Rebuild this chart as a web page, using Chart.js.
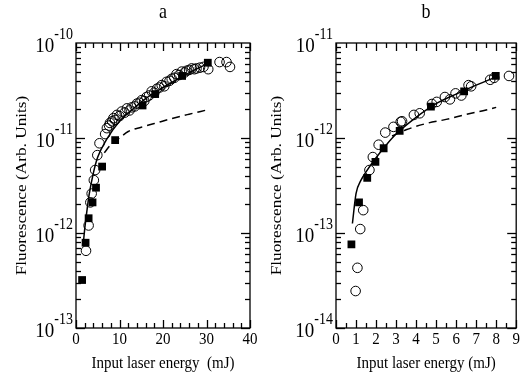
<!DOCTYPE html>
<html>
<head>
<meta charset="utf-8">
<script src="https://cdn.jsdelivr.net/npm/chart.js@4.4.0/dist/chart.umd.min.js"></script>
<style>
  body { margin: 0; background: #fff; }
  .panel { position: absolute; top: 0; width: 261px; height: 380px; }
</style>
</head>
<body>
<div class="panel" style="left:0"><canvas id="chartA" width="261" height="380"></canvas></div>
<div class="panel" style="left:261px"><canvas id="chartB" width="261" height="380"></canvas></div>
<script>
// panel a
const aSquareX = [1.4, 2.2, 2.9, 3.8, 4.6, 6.0, 9.0, 15.3, 18.2, 24.4, 30.3];
const aSquareY = [3.2e-13, 7.9e-13, 1.43e-12, 2.1e-12, 3.0e-12, 5.0e-12, 9.5e-12, 2.2e-11, 2.9e-11, 4.5e-11, 6.2e-11];
const aCircleX = [2.3, 2.9, 3.3, 3.6, 4.1, 4.4, 4.9, 5.4, 6.7, 7.1, 7.6, 7.8, 8.3, 8.6, 9.0, 9.4, 10.0, 10.5, 11.2, 11.7,
  12.3, 12.8, 13.5, 14.0, 14.6, 15.1, 15.7, 16.2, 16.8, 17.4, 18.0, 18.6, 19.2, 19.7, 20.3, 20.8, 21.5, 22.0, 22.6, 23.1,
  23.7, 24.3, 25.0, 25.4, 26.0, 26.6, 27.2, 27.7, 28.5, 29.3, 30.4, 33.0, 34.6, 35.4];
const aCircleY = [6.5e-13, 1.2e-12, 2.1e-12, 2.6e-12, 3.6e-12, 4.6e-12, 6.6e-12, 8.8e-12, 1.1e-11, 1.27e-11, 1.35e-11, 1.44e-11, 1.5e-11, 1.62e-11, 1.55e-11, 1.75e-11, 1.7e-11, 1.9e-11, 1.85e-11, 2.05e-11,
  1.95e-11, 2.1e-11, 2.15e-11, 2.3e-11, 2.35e-11, 2.5e-11, 2.45e-11, 2.7e-11, 2.8e-11, 3.1e-11, 3.0e-11, 3.3e-11, 3.4e-11, 3.6e-11, 3.5e-11, 3.9e-11, 4.0e-11, 4.2e-11, 4.3e-11, 4.7e-11,
  4.6e-11, 5.0e-11, 4.9e-11, 5.1e-11, 5.2e-11, 5.4e-11, 5.3e-11, 5.4e-11, 5.5e-11, 5.6e-11, 5.3e-11, 6.3e-11, 6.3e-11, 5.6e-11];
const aFitX = [1.7, 2.0, 2.5, 3, 4, 5, 7, 10, 13, 16, 20, 25, 30];
const aFitY = [8e-13, 1.1e-12, 1.7e-12, 2.5e-12, 4.3e-12, 6.3e-12, 9.6e-12, 1.5e-11, 2.0e-11, 2.6e-11, 3.4e-11, 4.6e-11, 6.0e-11];
const aDashX = [6.5, 8, 10, 12, 15, 18, 22, 26, 30];
const aDashY = [7.0e-12, 8.5e-12, 1.0e-11, 1.17e-11, 1.3e-11, 1.42e-11, 1.6e-11, 1.78e-11, 1.97e-11];

// panel b
const bSquareX = [0.77, 1.15, 1.56, 1.97, 2.38, 3.18, 4.74, 6.4, 7.98];
const bSquareY = [7.6e-14, 2.1e-13, 3.8e-13, 5.6e-13, 7.8e-13, 1.19e-12, 2.14e-12, 3.1e-12, 4.5e-12];
const bCircleX = [0.98, 1.07, 1.21, 1.36, 1.67, 1.84, 2.13, 2.46, 2.87, 3.23, 3.3, 3.89, 4.18, 4.79, 5.03, 5.44, 5.69, 5.97, 6.26, 6.62, 6.75, 7.7, 7.9, 8.64];
const bCircleY = [2.45e-14, 4.3e-14, 1.1e-13, 1.74e-13, 4.6e-13, 6.3e-13, 8.5e-13, 1.14e-12, 1.31e-12, 1.48e-12, 1.5e-12, 1.75e-12, 1.82e-12, 2.28e-12, 2.4e-12, 2.7e-12, 2.55e-12, 2.95e-12, 2.8e-12, 3.6e-12, 3.5e-12, 4.1e-12, 4.3e-12, 4.5e-12];
const bFitX = [0.82, 1.0, 1.25, 1.5, 2, 2.5, 3, 4, 5, 6, 7, 8];
const bFitY = [1.26e-13, 2.6e-13, 3.6e-13, 4.4e-13, 6.2e-13, 8.4e-13, 1.1e-12, 1.65e-12, 2.3e-12, 2.9e-12, 3.6e-12, 4.4e-12];
const bDashX = [2.8, 3.5, 4.5, 5.5, 6.5, 7.5, 8.0];
const bDashY = [1.05e-12, 1.22e-12, 1.42e-12, 1.57e-12, 1.77e-12, 1.97e-12, 2.1e-12];

const xTitleA = 'Input laser energy  (mJ)';
const xTitleB = 'Input laser energy (mJ)';
const yTitle = 'Fluorescence (Arb. Units)';

const FONT = '"Liberation Serif", "Times New Roman", serif';
const STRETCH = 1.15;

function pts(xs, ys) {
  return xs.map((x, i) => ({ x: x, y: ys[i] }));
}

function text(ctx, s, x, y, size, align, baseline) {
  ctx.save();
  ctx.translate(x, y);
  ctx.scale(1, STRETCH);
  ctx.font = size + 'px ' + FONT;
  ctx.textAlign = align;
  ctx.textBaseline = baseline || 'middle';
  ctx.fillStyle = '#000';
  ctx.fillText(s, 0, 0);
  ctx.restore();
}

// inward ticks on all four sides, placed through the chart's own scales
function drawTicks(ctx, a, xs, ys, o) {
  const segs = [];
  const nx = Math.round((o.xMax - o.xMin) / o.xMinor);
  for (let i = 0; i <= nx; i++) {
    const px = Math.round(xs.getPixelForValue(o.xMin + i * o.xMinor)) + 0.5;
    const len = (i % o.xEvery === 0) ? 8 : 5;
    segs.push([px, a.bottom, px, a.bottom - len]);
    segs.push([px, a.top, px, a.top + len]);
  }
  for (let d = o.yMinExp; d < o.yMaxExp; d++) {
    for (let m = 1; m <= 9; m++) {
      const py = Math.round(ys.getPixelForValue(m * Math.pow(10, d))) + 0.5;
      const len = m === 1 ? 9 : 5;
      segs.push([a.left, py, a.left + len, py]);
      segs.push([a.right, py, a.right - len, py]);
    }
  }
  ctx.save();
  ctx.strokeStyle = '#000';
  ctx.lineWidth = 1.3;
  segs.forEach(s => {
    ctx.beginPath();
    ctx.moveTo(s[0], s[1]);
    ctx.lineTo(s[2], s[3]);
    ctx.stroke();
  });
  ctx.restore();
}

const framePlugin = {
  id: 'frame',
  afterDraw(chart, args, o) {
    const ctx = chart.ctx;
    const a = chart.chartArea;
    const xs = chart.scales.x, ys = chart.scales.y;
    ctx.save();
    ctx.strokeStyle = '#000';
    ctx.lineWidth = 1.3;
    ctx.strokeRect(a.left, a.top, a.right - a.left, a.bottom - a.top);
    ctx.restore();

    drawTicks(ctx, a, xs, ys, o);

    // x tick labels
    o.xLabels.forEach(v => {
      text(ctx, String(v), xs.getPixelForValue(v), a.bottom + 11, 15, 'center');
    });
    // y tick labels 10^e
    for (let e = o.yMinExp; e <= o.yMaxExp; e++) {
      const py = ys.getPixelForValue(Math.pow(10, e));
      const ex = String(e);
      ctx.save();
      ctx.font = '14px ' + FONT;
      const we = ctx.measureText(ex).width;
      ctx.restore();
      const right = a.left - 3;
      text(ctx, ex, right, py - 4, 14, 'right', 'alphabetic');
      text(ctx, '10', right - we, py + 9, 19, 'right', 'alphabetic');
    }
    // titles
    text(ctx, o.title, (a.left + a.right) / 2, 13, 18, 'center');
    text(ctx, o.xTitle, (a.left + a.right) / 2, 363, 15, 'center');
    ctx.save();
    ctx.translate(o.yTitleX, (a.top + a.bottom) / 2);
    ctx.rotate(-Math.PI / 2);
    ctx.scale(STRETCH, 1);
    ctx.font = '15px ' + FONT;
    ctx.textAlign = 'center';
    ctx.textBaseline = 'middle';
    ctx.fillStyle = '#000';
    ctx.fillText(yTitle, 0, 0);
    ctx.restore();
  }
};

function makeChart(id, d) {
  new Chart(document.getElementById(id), {
    type: 'scatter',
    data: {
      datasets: [
        { data: pts(d.fitX, d.fitY), showLine: true, borderColor: '#000', borderWidth: 1.5,
          pointRadius: 0, cubicInterpolationMode: 'monotone', fill: false },
        { data: pts(d.dashX, d.dashY), showLine: true, borderColor: '#000', borderWidth: 1.5,
          borderDash: [8, 5], pointRadius: 0, cubicInterpolationMode: 'monotone', fill: false },
        { data: pts(d.sqX, d.sqY), pointStyle: 'rect', pointRadius: 5.5, backgroundColor: '#000',
          borderColor: '#000', borderWidth: 0 },
        { data: pts(d.cX, d.cY), pointStyle: 'circle', pointRadius: 4.8, backgroundColor: 'rgba(0,0,0,0)',
          borderColor: '#000', borderWidth: 1 }
      ]
    },
    options: {
      responsive: false,
      animation: false,
      layout: { padding: d.padding },
      plugins: { legend: { display: false }, tooltip: { enabled: false }, frame: d.frame },
      scales: {
        x: { type: 'linear', min: d.frame.xMin, max: d.frame.xMax, display: false },
        y: { type: 'logarithmic', min: d.yMin, max: d.yMax, display: false }
      }
    },
    plugins: [framePlugin]
  });
}

makeChart('chartA', {
  fitX: aFitX, fitY: aFitY, dashX: aDashX, dashY: aDashY,
  sqX: aSquareX, sqY: aSquareY, cX: aCircleX, cY: aCircleY,
  yMin: 1e-13, yMax: 1e-10,
  padding: { left: 76, right: 11, top: 43, bottom: 52 },
  frame: { xMin: 0, xMax: 40, xMinor: 2, xEvery: 5, xLabels: [0, 10, 20, 30, 40], yMinExp: -13, yMaxExp: -10,
    title: 'a', xTitle: xTitleA, yTitleX: 22 }
});

makeChart('chartB', {
  fitX: bFitX, fitY: bFitY, dashX: bDashX, dashY: bDashY,
  sqX: bSquareX, sqY: bSquareY, cX: bCircleX, cY: bCircleY,
  yMin: 1e-14, yMax: 1e-11,
  padding: { left: 75, right: 3, top: 43, bottom: 52 },
  frame: { xMin: 0, xMax: 9, xMinor: 0.5, xEvery: 2, xLabels: [0, 1, 2, 3, 4, 5, 6, 7, 8, 9], yMinExp: -14, yMaxExp: -11,
    title: 'b', xTitle: xTitleB, yTitleX: 16 }
});
</script>
</body>
</html>
